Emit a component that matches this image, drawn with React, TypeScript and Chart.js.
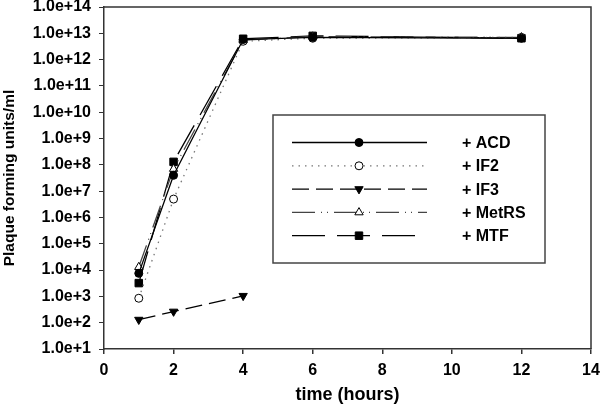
import React, { useEffect, useRef } from "react";
import { Chart, registerables } from "chart.js";

Chart.register(...registerables);

const TIMES = [1, 2, 4, 6, 12];
const IF3_TIMES = [1, 2, 4];
const ACD = [7.5e3, 4e7, 5.8e12, 7e12, 6.5e12];
const IF2 = [8.5e2, 5e6, 5e12, 6.5e12, 7e12];
const IF3 = [130, 265, 1050];
const METRS = [1.3e4, 7e7, 5.5e12, 7.5e12, 7e12];
const MTF = [3.2e3, 1.3e8, 6.2e12, 8e12, 6.5e12];
const LABELS = ["+ ACD", "+ IF2", "+ IF3", "+ MetRS", "+ MTF"];
const X_TICKS = [0, 2, 4, 6, 8, 10, 12, 14];
const Y_EXPONENTS = [1, 2, 3, 4, 5, 6, 7, 8, 9, 10, 11, 12, 13, 14];

const FONT = "'Liberation Sans', Arial, sans-serif";

function pts(xs: number[], ys: number[]) {
  return xs.map((x, i) => ({ x, y: ys[i] }));
}

function drawMarker(ctx: CanvasRenderingContext2D, style: string, x: number, y: number, r: number, fill: string, stroke: string, rot: number) {
  ctx.save();
  ctx.setLineDash([]);
  ctx.fillStyle = fill;
  ctx.strokeStyle = stroke;
  ctx.lineWidth = 1;
  ctx.beginPath();
  if (style === "circle") {
    ctx.arc(x, y, r, 0, Math.PI * 2);
  } else if (style === "rect") {
    const s = r * Math.SQRT1_2;
    ctx.rect(x - s, y - s, 2 * s, 2 * s);
  } else if (style === "triangle") {
    let a = (rot * Math.PI) / 180;
    ctx.moveTo(x + Math.sin(a) * r, y - Math.cos(a) * r);
    a += (2 * Math.PI) / 3;
    ctx.lineTo(x + Math.sin(a) * r, y - Math.cos(a) * r);
    a += (2 * Math.PI) / 3;
    ctx.lineTo(x + Math.sin(a) * r, y - Math.cos(a) * r);
    ctx.closePath();
  }
  ctx.fill();
  ctx.stroke();
  ctx.restore();
}

const framePlugin = {
  id: "frameAndLegend",
  afterDraw(chart: any) {
    const ctx: CanvasRenderingContext2D = chart.ctx;
    const a = chart.chartArea;
    ctx.save();
    ctx.strokeStyle = "#333";
    ctx.lineWidth = 1.5;
    ctx.setLineDash([]);
    ctx.beginPath();
    ctx.moveTo(a.left, a.top);
    ctx.lineTo(a.right, a.top);
    ctx.lineTo(a.right, a.bottom);
    ctx.stroke();

    ctx.fillStyle = "#000";
    ctx.font = `bold 18px ${FONT}`;
    ctx.textAlign = "center";
    ctx.textBaseline = "middle";
    ctx.fillText("time (hours)", (a.left + a.right) / 2, 395);
    ctx.save();
    ctx.translate(10, (a.top + a.bottom) / 2);
    ctx.rotate(-Math.PI / 2);
    ctx.font = `bold 15.5px ${FONT}`;
    ctx.fillText("Plaque forming units/ml", 0, 0);
    ctx.restore();

    const bx = 273, by = 115, bw = 272, bh = 148;
    ctx.fillStyle = "#fff";
    ctx.fillRect(bx, by, bw, bh);
    ctx.strokeStyle = "#444";
    ctx.lineWidth = 1.5;
    ctx.strokeRect(bx, by, bw, bh);
    chart.data.datasets.forEach((ds: any, i: number) => {
      const y = 142.5 + i * 23.3;
      ctx.save();
      ctx.strokeStyle = ds.borderColor;
      ctx.lineWidth = ds.borderWidth;
      ctx.setLineDash(ds.borderDash || []);
      ctx.lineDashOffset = 0;
      ctx.beginPath();
      ctx.moveTo(292, y);
      ctx.lineTo(427, y);
      ctx.stroke();
      ctx.restore();
      drawMarker(ctx, ds.pointStyle, 359, y, ds.pointRadius, ds.pointBackgroundColor, ds.pointBorderColor, ds.pointRotation || 0);
      ctx.fillStyle = "#000";
      ctx.font = `bold 16px ${FONT}`;
      ctx.textAlign = "left";
      ctx.textBaseline = "middle";
      ctx.fillText(ds.label, 462, y + 1);
    });
    ctx.restore();
  },
};

export default function App() {
  const ref = useRef<HTMLCanvasElement | null>(null);
  useEffect(() => {
    document.body.style.margin = "0";
    if (!ref.current) return;
    const common = { borderWidth: 1.3, pointBorderColor: "#000", pointBorderWidth: 1, fill: false, tension: 0 };
    const chart = new Chart(ref.current, {
      type: "line",
      data: {
        datasets: [
          { ...common, label: LABELS[0], data: pts(TIMES, ACD), borderColor: "#000", pointStyle: "circle", pointRadius: 4, pointBackgroundColor: "#000" },
          { ...common, label: LABELS[1], data: pts(TIMES, IF2), borderColor: "#777", borderDash: [1.5, 5], pointStyle: "circle", pointRadius: 4, pointBackgroundColor: "#fff" },
          { ...common, label: LABELS[2], data: pts(IF3_TIMES, IF3), borderColor: "#000", borderDash: [17, 7], pointStyle: "triangle", pointRotation: 180, pointRadius: 4.8, pointBackgroundColor: "#000" },
          { ...common, label: LABELS[3], data: pts(TIMES, METRS), borderColor: "#444", borderDash: [23, 6, 1, 5, 1, 6], pointStyle: "triangle", pointRotation: 0, pointRadius: 4.8, pointBackgroundColor: "#fff" },
          { ...common, label: LABELS[4], data: pts(TIMES, MTF), borderColor: "#000", borderDash: [33, 12], pointStyle: "rect", pointRadius: 5.3, pointBackgroundColor: "#000" },
        ] as any,
      },
      options: {
        animation: false,
        responsive: true,
        maintainAspectRatio: false,
        layout: { padding: { top: 7, right: 9, left: 0, bottom: 0 } },
        plugins: { legend: { display: false }, tooltip: { enabled: false }, title: { display: false } },
        scales: {
          x: {
            type: "linear",
            min: 0,
            max: 14,
            afterFit: (s: any) => { s.height = 56; s.paddingLeft = 0; s.paddingRight = 0; },
            afterBuildTicks: (s: any) => { s.ticks = X_TICKS.map((v) => ({ value: v })); },
            ticks: { color: "#000", font: { family: FONT, size: 16, weight: "bold" }, padding: 7, autoSkip: false, maxRotation: 0 },
            grid: { drawOnChartArea: false, drawTicks: true, tickLength: 5, color: "#333", lineWidth: 1.5 },
            border: { display: true, color: "#333", width: 1.5 },
          },
          y: {
            type: "logarithmic",
            min: 10,
            max: 1e14,
            afterFit: (s: any) => { s.width = 104; s.paddingTop = 0; s.paddingBottom = 0; },
            afterBuildTicks: (s: any) => { s.ticks = Y_EXPONENTS.map((e) => ({ value: Math.pow(10, e) })); },
            ticks: {
              color: "#000",
              font: { family: FONT, size: 16, weight: "bold" },
              padding: 8,
              autoSkip: false,
              callback: (v: any) => "1.0e+" + Math.round(Math.log10(Number(v))),
            },
            grid: { drawOnChartArea: false, drawTicks: true, tickLength: 5, color: "#333", lineWidth: 1 },
            border: { display: true, color: "#333", width: 1.5 },
          },
        },
      } as any,
      plugins: [framePlugin],
    });
    return () => chart.destroy();
  }, []);
  return (
    <div style={{ width: 600, height: 405, position: "relative" }}>
      <canvas ref={ref} />
    </div>
  );
}
